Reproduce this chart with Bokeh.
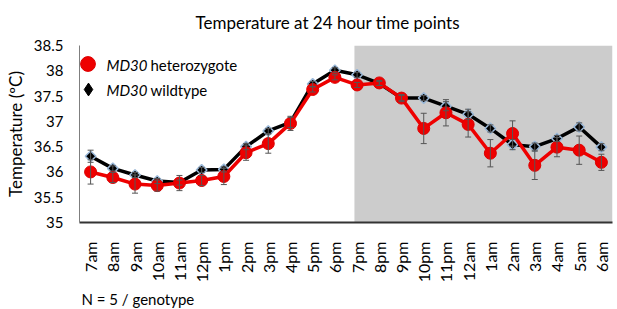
import math
from bokeh.plotting import figure
from bokeh.models import (ColumnDataSource, FixedTicker, BoxAnnotation, Whisker,
                          TeeHead, Legend, LegendItem, Label, Range1d, Title)
from bokeh.embed import file_html
from bokeh.resources import INLINE

hours = ["7am", "8am", "9am", "10am", "11am", "12pm", "1pm", "2pm", "3pm", "4pm",
         "5pm", "6pm", "7pm", "8pm", "9pm", "10pm", "11pm", "12am", "1am", "2am",
         "3am", "4am", "5am", "6am"]
wildtype = [36.31, 36.07, 35.94, 35.82, 35.79, 36.04, 36.05, 36.50, 36.81, 36.98,
            37.74, 38.01, 37.92, 37.75, 37.46, 37.46, 37.30, 37.14, 36.86, 36.54,
            36.50, 36.66, 36.89, 36.49]
wildtype_err = [0.12, 0.05, 0.05, 0.05, 0.05, 0.05, 0.05, 0.06, 0.05, 0.10,
                0.05, 0.05, 0.05, 0.04, 0.05, 0.05, 0.09, 0.10, 0.07, 0.10,
                0.07, 0.06, 0.08, 0.07]
heterozygote = [36.00, 35.89, 35.76, 35.73, 35.78, 35.83, 35.91, 36.38, 36.56, 36.96,
                37.63, 37.87, 37.72, 37.76, 37.46, 36.86, 37.17, 36.94, 36.37, 36.76,
                36.13, 36.49, 36.43, 36.19]
heterozygote_err = [0.24, 0.10, 0.18, 0.11, 0.15, 0.10, 0.16, 0.15, 0.19, 0.14,
                    0.05, 0.05, 0.05, 0.05, 0.07, 0.30, 0.26, 0.25, 0.27, 0.25,
                    0.28, 0.19, 0.28, 0.16]
y_ticks = [35, 35.5, 36, 36.5, 37, 37.5, 38, 38.5]
y_tick_labels = ["35", "35.5", "36", "36.5", "37", "37.5", "38", "38.5"]
night_start = 11.88  # shaded region (7pm onward)

FONT = "Lato"
xs = list(range(len(hours)))

src_wt = ColumnDataSource(dict(x=xs, y=wildtype,
                               lo=[v - e for v, e in zip(wildtype, wildtype_err)],
                               hi=[v + e for v, e in zip(wildtype, wildtype_err)]))
src_het = ColumnDataSource(dict(x=xs, y=heterozygote,
                                lo=[v - e for v, e in zip(heterozygote, heterozygote_err)],
                                hi=[v + e for v, e in zip(heterozygote, heterozygote_err)]))

p = figure(width=617, height=309, output_backend="svg", toolbar_location=None,
           x_range=Range1d(-0.5, len(hours) - 0.5), y_range=Range1d(35, 38.5),
           min_border_left=79, min_border_right=5, min_border_top=43, min_border_bottom=85)
p.outline_line_color = None
p.xgrid.grid_line_color = None
p.ygrid.grid_line_color = None
p.background_fill_color = "white"

p.add_layout(BoxAnnotation(left=night_start, right=len(hours) - 0.5, bottom=35, top=38.5,
                           fill_color="#cccccc", fill_alpha=1.0, line_color=None,
                           level="underlay"))

# wildtype
p.line("x", "y", source=src_wt, line_color="black", line_width=3.5)
wt_wh = Whisker(base="x", upper="hi", lower="lo", source=src_wt, level="glyph",
                line_color="#555555", line_width=1,
                upper_head=TeeHead(size=6, line_color="#555555", line_width=1),
                lower_head=TeeHead(size=6, line_color="#555555", line_width=1))
p.add_layout(wt_wh)
wt_pts = p.scatter("x", "y", source=src_wt, marker="square", angle=math.pi / 4, size=7.5,
                   fill_color="black", line_color="#9ab8d8", line_width=1.5)
# legend key for wildtype (diamond shape; hidden in the plot area)
wt_key = p.scatter("x", "y", source=src_wt, marker="diamond", size=12,
                   fill_color="black", line_color="black", line_width=1, visible=False)

# heterozygote
p.line("x", "y", source=src_het, line_color="#ee0000", line_width=3.5)
het_wh = Whisker(base="x", upper="hi", lower="lo", source=src_het, level="glyph",
                 line_color="#555555", line_width=1,
                 upper_head=TeeHead(size=6, line_color="#555555", line_width=1),
                 lower_head=TeeHead(size=6, line_color="#555555", line_width=1))
p.add_layout(het_wh)
het_pts = p.scatter("x", "y", source=src_het, marker="circle", size=12,
                    fill_color="#ee0000", line_color="#dd0000", line_width=1)

# axes
p.xaxis.ticker = FixedTicker(ticks=xs)
p.xaxis.major_label_overrides = {i: h for i, h in enumerate(hours)}
p.xaxis.major_label_orientation = math.pi / 2
p.xaxis.major_tick_line_color = None
p.xaxis.minor_tick_line_color = None
p.xaxis.major_tick_out = 0
p.xaxis.major_label_standoff = 19
p.xaxis.axis_line_color = "#333333"
p.xaxis.axis_line_width = 2
p.xaxis.major_label_text_font = FONT
p.xaxis.major_label_text_font_size = "16px"
p.xaxis.major_label_text_color = "black"

p.yaxis.ticker = FixedTicker(ticks=y_ticks)
p.yaxis.major_label_overrides = {t: l for t, l in zip(y_ticks, y_tick_labels)}
p.yaxis.major_tick_line_color = None
p.yaxis.minor_tick_line_color = None
p.yaxis.major_tick_out = 0
p.yaxis.major_label_standoff = 16
p.yaxis.axis_line_color = "#7f7f7f"
p.yaxis.axis_line_width = 1
p.yaxis.major_label_text_font = FONT
p.yaxis.major_label_text_font_size = "15px"
p.yaxis.major_label_text_color = "black"
p.yaxis.axis_label = "Temperature (ºC)"
p.yaxis.axis_label_text_font = FONT
p.yaxis.axis_label_text_font_size = "17px"
p.yaxis.axis_label_text_font_style = "normal"
p.yaxis.axis_label_text_color = "black"
p.yaxis.axis_label_standoff = 5

# title and footnote
p.add_layout(Title(text="Temperature at 24 hour time points", align="left", offset=116,
                   standoff=22, vertical_align="top", text_font=FONT,
                   text_font_size="17px", text_font_style="normal",
                   text_color="black"), "above")
p.add_layout(Title(text="N = 5 / genotype", align="left", offset=2, standoff=4,
                   text_font=FONT, text_font_size="15px",
                   text_font_style="normal", text_color="black"), "below")

# legend keys (one legend per key so they can be spaced freely) + mixed-style labels
for rend, gsize, loc in [(het_pts, 37, (-10, 140)), (wt_key, 32, (-7, 117))]:
    p.add_layout(Legend(items=[LegendItem(label=" ", renderers=[rend])],
                        location=loc, glyph_width=gsize, glyph_height=gsize,
                        padding=0, margin=0, label_standoff=0, label_width=1,
                        label_height=1, border_line_color=None,
                        background_fill_alpha=0, inactive_fill_alpha=0,
                        label_text_font_size="1px"))

for txt, style, xx, yy in [("MD30", "italic", 27, 158), ("heterozygote", "normal", 71, 158),
                           ("MD30", "italic", 27, 133), ("wildtype", "normal", 71, 133)]:
    p.add_layout(Label(x=xx, y=yy, x_units="screen", y_units="screen", text=txt,
                       text_font=FONT, text_font_size="15px", text_font_style=style,
                       text_baseline="middle", text_color="black"))

open("out.html", "w").write(file_html(p, INLINE))
